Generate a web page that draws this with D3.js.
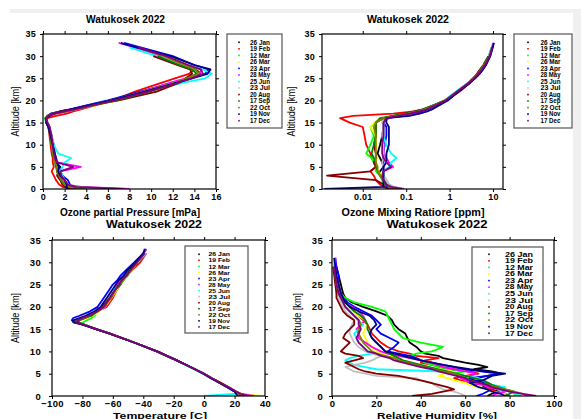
<!DOCTYPE html>
<html><head><meta charset="utf-8">
<script src="https://cdn.jsdelivr.net/npm/d3@7"></script>
<style>body{margin:0;background:#fff;} svg{display:block;font-family:"Liberation Sans",Arial,sans-serif;}</style>
</head><body><svg id="c" width="581" height="419"></svg>
<script>
const dates = ["26 Jan","19 Feb","12 Mar","26 Mar","23 Apr","28 May","25 Jun","23 Jul","20 Aug","17 Sep","22 Oct","19 Nov","17 Dec"];
const seriesColors = ["#000000","#ff0000","#00ff00","#ffff00","#0000ff","#ff00ff","#00ffff","#c0c0c0","#800000","#008000","#808000","#000080","#800080"];
const altTicks = [0,5,10,15,20,25,30,35];
const pressureTicks = [0,2,4,6,8,10,12,14,16];
const mixingTicks = [0.01,0.1,1,10];
const tempTicks = [-100,-80,-60,-40,-20,0,20,40];
const humidityTicks = [0,20,40,60,80,100];

// altitude levels [km]
const altA = [0,0.5,1,2,3,4,5,6,7,8,10,12,14,15,16,16.5,17,17.5,18,19,20,22,24,25,26,27,28,30,32,33];
const altB = [0,0.5,1,1.5,2,2.5,3,3.5,4,4.5,5,5.5,6,6.5,7,7.5,8,8.5,9,9.5,10,11,12,13,14,15,16,17,18,19,20,21,22,23,25,27,29,31,32];

// Ozone partial pressure [mPa] on altA
const ozonePressure = [
 [5.5,2.6,2.2,1.8,1.5,1.3,1.6,1.2,1.1,1.0,0.9,0.8,0.6,0.4,0.3,0.4,0.8,1.6,2.6,4.5,6.2,9.8,12.2,13.4,14.6,14.2,13.0,11.2,null,null],
 [3.0,1.8,1.5,1.2,1.0,0.8,1.0,0.9,0.9,0.8,0.7,0.6,0.5,0.3,0.4,1.2,2.2,2.8,3.5,5.0,6.5,8.5,11.0,12.2,13.5,14.0,13.2,11.5,9.0,null],
 [6.0,3.0,2.0,1.9,1.6,1.4,1.3,1.1,1.2,1.0,0.8,0.7,0.5,0.3,0.2,0.4,0.8,1.8,2.9,4.6,6.8,9.5,12.4,13.6,14.5,14.0,12.8,10.8,null,null],
 [6.8,3.2,2.4,2.0,1.7,1.5,1.4,1.2,1.1,1.1,0.9,0.8,0.6,0.4,0.3,0.5,1.0,2.0,3.1,5.0,7.0,10.0,12.8,13.8,14.8,14.4,13.5,11.8,9.0,null],
 [3.0,2.6,2.5,2.3,1.8,1.6,1.5,1.3,1.2,1.0,0.9,0.7,0.5,0.3,0.3,0.4,0.7,1.5,2.5,4.2,6.0,9.0,12.0,13.5,15.0,15.3,14.0,12.0,9.0,7.5],
 [8.0,3.5,2.2,2.0,1.8,1.6,3.5,1.3,1.2,1.1,1.0,0.8,0.6,0.4,0.3,0.6,1.2,2.2,3.2,4.8,6.5,9.2,11.8,13.2,14.4,14.7,13.4,11.0,8.5,7.0],
 [5.0,2.8,2.2,2.0,1.8,1.6,1.8,2.0,2.6,1.4,1.0,0.8,0.6,0.4,0.3,0.4,0.9,1.8,2.8,4.5,6.4,9.6,13.0,15.0,15.6,14.8,13.0,10.5,8.0,null],
 [6.2,2.8,2.3,2.0,1.7,1.5,1.4,1.3,1.2,1.1,0.9,0.8,0.6,0.4,0.3,0.5,0.9,1.9,2.9,4.8,6.6,9.4,12.3,13.5,14.3,14.0,13.0,11.0,null,null],
 [2.5,2.0,1.8,1.6,1.3,1.4,1.4,1.2,1.0,1.0,0.9,0.7,0.6,0.4,0.3,0.4,0.8,1.6,2.6,4.6,7.0,10.5,12.6,13.2,13.8,13.6,12.4,10.2,null,null],
 [3.5,2.4,2.0,1.7,1.5,1.3,1.2,1.1,1.0,0.9,0.8,0.7,0.5,0.3,0.2,0.5,1.0,2.0,3.0,4.9,6.8,9.8,12.4,13.4,14.2,13.8,12.6,10.6,null,null],
 [4.0,2.4,2.0,1.7,1.5,1.3,1.3,1.1,1.0,0.9,0.8,0.7,0.5,0.3,0.3,0.5,1.1,2.1,3.0,4.7,6.3,9.3,12.2,13.3,14.4,14.1,13.0,11.2,8.8,null],
 [2.2,2.2,2.2,2.0,1.6,1.4,1.5,1.3,1.2,1.1,0.9,0.7,0.5,0.3,0.3,0.6,1.0,1.8,2.6,4.4,6.3,9.4,12.4,13.8,15.2,15.5,14.0,11.8,8.6,7.2],
 [7.5,3.0,2.3,2.0,1.7,1.6,2.8,1.3,1.1,1.0,0.9,0.8,0.6,0.4,0.3,0.5,1.0,1.9,2.9,4.7,6.6,9.7,12.5,13.7,14.8,14.6,13.4,11.4,8.8,null]
];

// Ozone mixing ratio [ppm] on altA
const ozoneMixing = [
 [0.06,0.04,0.03,0.03,0.025,0.025,0.03,0.028,0.025,0.022,0.025,0.028,0.03,0.03,0.035,0.06,0.12,0.2,0.28,0.5,0.85,1.5,2.8,3.6,4.4,5.3,6.3,8.3,null,null],
 [0.05,0.03,0.025,0.02,0.018,0.015,0.02,0.018,0.016,0.015,0.012,0.011,0.01,0.005,0.003,0.006,0.05,0.15,0.25,0.5,0.8,1.5,2.7,3.4,4.3,5.2,6.2,8.0,9.3,null],
 [0.07,0.04,0.03,0.028,0.025,0.02,0.02,0.018,0.016,0.012,0.015,0.018,0.015,0.02,0.03,0.06,0.1,0.18,0.27,0.48,0.82,1.6,2.9,3.7,4.4,5.2,6.2,8.2,null,null],
 [0.08,0.05,0.04,0.035,0.03,0.022,0.02,0.02,0.022,0.02,0.02,0.02,0.015,0.018,0.03,0.05,0.1,0.17,0.26,0.46,0.8,1.5,2.8,3.6,4.5,5.4,6.5,8.4,9.6,null],
 [0.04,0.035,0.035,0.03,0.03,0.03,0.03,0.03,0.03,0.03,0.032,0.035,0.035,0.03,0.03,0.08,0.15,0.22,0.32,0.55,0.9,1.6,2.9,3.8,4.8,5.8,6.8,8.6,9.8,10.3],
 [0.09,0.05,0.04,0.035,0.03,0.03,0.05,0.04,0.035,0.03,0.03,0.03,0.03,0.03,0.04,0.07,0.2,0.3,0.4,0.55,0.85,1.5,2.7,3.5,4.3,5.3,6.3,8.2,9.5,10],
 [0.07,0.05,0.04,0.035,0.03,0.03,0.04,0.045,0.06,0.045,0.035,0.03,0.03,0.03,0.03,0.05,0.1,0.16,0.25,0.45,0.75,1.4,2.7,3.8,4.7,5.5,6.4,8.0,9.3,null],
 [0.08,0.05,0.04,0.035,0.03,0.03,0.03,0.028,0.03,0.03,0.03,0.028,0.03,0.028,0.03,0.055,0.1,0.17,0.26,0.47,0.8,1.5,2.8,3.6,4.4,5.3,6.3,8.2,null,null],
 [0.04,0.03,0.03,0.02,0.0015,0.015,0.02,0.018,0.02,0.02,0.018,0.02,0.02,0.02,0.03,0.05,0.09,0.15,0.24,0.45,0.82,1.7,3.0,3.7,4.3,5.0,6.0,7.8,null,null],
 [0.06,0.04,0.035,0.03,0.025,0.022,0.02,0.02,0.018,0.016,0.018,0.02,0.02,0.02,0.025,0.05,0.1,0.17,0.25,0.45,0.78,1.5,2.8,3.6,4.4,5.2,6.1,8.0,null,null],
 [0.06,0.04,0.035,0.03,0.025,0.022,0.022,0.02,0.02,0.02,0.02,0.02,0.018,0.02,0.03,0.06,0.11,0.18,0.27,0.47,0.8,1.5,2.8,3.6,4.5,5.3,6.3,8.3,9.5,null],
 [0.0013,0.03,0.03,0.03,0.03,0.03,0.03,0.035,0.035,0.035,0.04,0.04,0.04,0.035,0.035,0.12,0.2,0.3,0.4,0.6,0.9,1.6,2.9,3.9,4.9,5.9,6.9,8.6,9.9,10.5],
 [0.08,0.045,0.035,0.03,0.028,0.03,0.045,0.035,0.03,0.028,0.028,0.03,0.03,0.03,0.035,0.065,0.12,0.2,0.3,0.5,0.82,1.5,2.8,3.7,4.6,5.5,6.5,8.4,9.6,null]
];

// Temperature [C] on altA
const temperature = [
 [27,23,21,16,10.5,5,0,-6,-12,-18,-31,-46,-62,-71,-79,-84,-84,-80,-76,-70,-66,-62,-58,-55,-53,-51,-49,-44,null,null],
 [30,24,21,15.5,10,5,-0.5,-6,-12,-18,-31,-46,-62,-71,-79,-83,-82,-78,-74,-70,-64,-60,-57,-55,-54,-51,-48,-42,-38,null],
 [28,23,20,15,10,4.5,-0.5,-6.5,-12.5,-18.5,-31.5,-46.5,-62,-71,-79,-80,-77,-74,-72,-70,-67,-63,-58,-55,-53,-50,-49,-45,null,null],
 [38,25,21,16,11,5,0,-6,-12,-18,-31,-46,-62,-71,-79,-83,-82,-77,-73,-69,-65,-61,-57,-56,-53,-51,-48,-44,-40,null],
 [24,22,20,15,10,4.5,-0.5,-6,-12,-18,-31,-46,-62,-71,-80,-85,-87,-86,-82,-75,-70,-66,-62,-60,-57,-55,-52,-46,-40,-38],
 [33,24,21,15.5,10.5,5,0,-6,-12,-18,-31,-46,-62,-71,-79,-84,-83,-79,-75,-70,-65,-62,-59,-57,-55,-52,-49,-44,-40,-38],
 [0,22,20,15,10,5,-0.5,-6.5,-12.5,-18,-31,-46,-62,-71,-79,-83,-82,-79,-75,-71,-66,-62,-59,-56,-54,-52,-50,-44,-38,null],
 [26,23,20,15,10,4.5,-0.5,-6,-12,-18,-31,-46,-62,-71,-79,-84,-83,-80,-76,-71,-67,-63,-58,-56,-54,-52,-50,-45,null,null],
 [29,23,20,15,10,5,0,-6,-12,-18,-31,-46,-62,-71,-79,-83,-82,-78,-75,-71,-67,-62,-58,-56,-54,-51,-49,-45,null,null],
 [27,23,20,15.5,10,5,0,-6,-12,-18,-31,-46,-62,-71,-79,-83,-85,-80,-74,-70,-66,-62,-58,-55,-54,-52,-50,-44,null,null],
 [29,23,20,15,10,5,0,-6,-12,-18,-31,-46,-62,-71,-79,-84,-83,-79,-76,-70,-66,-61,-58,-56,-53,-51,-48,-44,-40,null],
 [22,21,20,15,10,4.5,-0.5,-6,-12,-18,-31,-46,-62,-71,-80,-86,-86,-82,-78,-72,-68,-64,-60,-58,-56,-53,-51,-45,-40,-39],
 [30,24,21,16,10.5,5,0,-6,-12,-18,-31,-46,-62,-71,-79,-84,-83,-80,-76,-70,-66,-62,-58,-56,-54,-51,-49,-44,-39,null]
];

// Relative humidity [%] on altB
const humidity = [
 [70,72,75,72,68,70,66,60,65,70,76,72,64,70,66,60,55,50,48,42,40,38,35,34,33,30,28,27,25,20,14,9,6,5,4,3,2,null,null],
 [80,78,74,70,72,68,62,58,55,60,66,62,55,50,45,40,42,48,38,35,30,25,22,20,18,17,16,14,12,10,8,6,5,4,3,2,1.5,null,null],
 [85,82,80,78,75,72,70,65,60,58,55,60,52,48,45,42,40,38,35,38,45,50,40,32,30,28,27,26,25,24,18,10,6,4,3,2,1.5,null,null],
 [75,78,72,70,66,62,60,55,52,48,50,54,48,42,38,35,32,30,25,22,20,18,16,15,14,15,16,15,12,10,8,6,5,4,3,2,1.5,null,null],
 [65,68,70,72,74,70,68,64,62,70,75,68,60,55,50,45,40,38,35,30,25,28,30,26,22,20,22,20,18,14,10,7,5,4,3,3,2,1.5,null],
 [72,74,78,75,70,68,62,60,58,62,65,60,55,50,48,45,40,35,30,25,22,18,15,12,12,11,13,15,14,12,9,6,5,4,3,2,1.5,1.5,null],
 [82,84,80,75,78,72,70,68,66,60,55,50,20,15,10,8,6,8,12,18,16,14,12,11,10,12,14,12,10,8,6,5,4,3,2,1.5,1,1,null],
 [60,58,55,50,48,46,45,40,38,20,15,10,8,6,10,15,18,20,22,18,15,12,10,9,8,8,9,10,8,6,5,4,3,2,2,1.5,1,null,null],
 [36,45,50,55,52,48,44,40,35,30,20,15,12,10,8,6,10,14,12,6,4,6,8,5,6,8,10,10,7,5,4,3,2,2,1.5,1,0.5,null,null],
 [78,80,82,78,75,72,70,68,64,60,56,52,48,44,40,36,32,30,28,26,24,22,20,18,17,16,16,15,13,10,8,6,4,3,2,1.5,1,null,null],
 [88,86,82,78,74,70,66,62,60,58,55,50,46,42,38,34,30,28,24,20,18,16,14,13,12,12,13,12,10,8,6,5,4,3,2,1.5,1,null,null],
 [78,76,72,70,66,64,62,68,70,72,78,70,62,56,50,45,40,36,32,28,24,22,20,18,17,18,20,19,17,12,8,6,5,4,3,2,1.5,1,null],
 [92,86,80,76,72,70,66,62,60,56,52,48,45,40,36,32,28,26,22,20,16,14,12,11,12,13,12,12,10,8,6,5,4,3,2,1.5,1,null,null]
];

const svg = d3.select("#c");
// light grey page border strips
svg.append("rect").attr("x",10).attr("y",9).attr("width",571).attr("height",4).attr("fill","#f0f0f0");
svg.append("rect").attr("x",573).attr("y",13).attr("width",8).attr("height",406).attr("fill","#f0f0f0");

const panels = [
 {box:[43,216,34,189], xs:d3.scaleLinear().domain([0,16]), ticks:pressureTicks, fmt:d3.format("d"),
  data:ozonePressure, alt:altA, title:[125.5,23,79], xlab:["Ozone partial Pressure [mPa]",130,216,140,10], ylabX:15, tickFs:9, pad:2, lpad:4,
  leg:{box:[227,282,34,128], first:42.3, step:6.53, dot:239, text:250, fs:6.5, tw:20}},
 {box:[322,503,34,189], xs:d3.scaleLog().domain([0.00115,17]), ticks:mixingTicks, fmt:d=>String(d),
  data:ozoneMixing, alt:altA, title:[408,23,82], xlab:["Ozone Mixing Ratiore [ppm]",413,216,143,10], ylabX:291, tickFs:9, pad:2, lpad:4,
  leg:{box:[514,572,34,128], first:42.3, step:6.53, dot:528, text:540.5, fs:6.5, tw:20}},
 {box:[52,265,240,396], xs:d3.scaleLinear().domain([-100,40]), ticks:tempTicks, fmt:d3.format("d"),
  data:temperature, alt:altA, title:[154,228,96], xlab:["Temperature [C]",160,418.5,94,9], ylabX:15, tickFs:9.5, pad:1, lpad:8,
  leg:{box:[185,248,246,333], first:254.3, step:6.05, dot:199, text:208.5, fs:6, tw:21.5}},
 {box:[332,554,240,396], xs:d3.scaleLinear().domain([0,100]), ticks:humidityTicks, fmt:d3.format("d"),
  data:humidity, alt:altB, title:[437,228,101], xlab:["Relative Humidity [%]",437,418.5,120,9], ylabX:297, tickFs:9.5, pad:1, lpad:6,
  leg:{box:[472,543,247,340], first:254.3, step:6.58, dot:489, text:505, fs:6.5, tw:28}}
];

panels.forEach(p => {
  const [x0,x1,y0,y1] = p.box;
  const x = p.xs.range([x0,x1]);
  const y = d3.scaleLinear().domain([0,35]).range([y1,y0]);
  const g = svg.append("g");
  const clipId = "clip"+x0+"_"+y0;
  g.append("clipPath").attr("id",clipId).append("rect").attr("x",x0).attr("y",y0).attr("width",x1-x0).attr("height",y1-y0);

  // profiles
  const line = d3.line().defined(d=>d[0]!=null).x(d=>x(d[0])).y(d=>y(d[1]));
  const lg = g.append("g").attr("clip-path",`url(#${clipId})`);
  p.data.forEach((vals,i) => {
    const pts = vals.map((v,k)=>[v,p.alt[k]]);
    lg.append("path").attr("d",line(pts)).attr("fill","none")
      .attr("stroke",seriesColors[i]).attr("stroke-width",1.8).attr("stroke-linejoin","round");
  });

  // axes
  const styleAxis = sel => {
    sel.select(".domain").remove();
    sel.selectAll("line").attr("stroke","#000");
    sel.selectAll("text").attr("font-weight","bold").attr("font-size",p.tickFs).attr("fill","#000")
      .attr("font-family","'Liberation Sans',Arial,sans-serif").attr("letter-spacing","0.3px");
  };
  g.append("g").attr("transform",`translate(0,${y1})`)
    .call(d3.axisBottom(x).tickValues(p.ticks).tickFormat(p.fmt).tickSize(3).tickPadding(p.pad)).call(styleAxis);
  g.append("g").attr("transform",`translate(0,${y0})`)
    .call(d3.axisTop(x).tickValues(p.ticks).tickFormat("").tickSize(3)).call(styleAxis);
  g.append("g").attr("transform",`translate(${x0},0)`)
    .call(d3.axisLeft(y).tickValues(altTicks).tickFormat(d3.format("d")).tickSize(3).tickPadding(p.lpad)).call(styleAxis);
  g.append("g").attr("transform",`translate(${x1},0)`)
    .call(d3.axisRight(y).tickValues(altTicks).tickFormat("").tickSize(3)).call(styleAxis);

  // frame
  g.append("rect").attr("x",x0).attr("y",y0).attr("width",x1-x0).attr("height",y1-y0)
    .attr("fill","none").attr("stroke","#000").attr("stroke-width",1.2);

  // title
  g.append("text").attr("x",p.title[0]).attr("y",p.title[1]).attr("text-anchor","middle")
    .attr("font-weight","bold").attr("font-size",10.5).attr("textLength",p.title[2]).attr("lengthAdjust","spacingAndGlyphs")
    .text("Watukosek 2022");
  // x label
  g.append("text").attr("x",p.xlab[1]).attr("y",p.xlab[2]).attr("text-anchor","middle")
    .attr("font-weight","bold").attr("font-size",p.xlab[4]).attr("textLength",p.xlab[3]).attr("lengthAdjust","spacingAndGlyphs")
    .text(p.xlab[0]);
  // y label
  const ym = (y0+y1)/2;
  g.append("text").attr("transform",`translate(${p.ylabX},${ym}) rotate(-90)`).attr("text-anchor","middle")
    .attr("dy","0.35em").attr("font-size",11).attr("textLength",50).attr("lengthAdjust","spacingAndGlyphs")
    .text("Altitude [km]");

  // legend
  const L = p.leg;
  g.append("rect").attr("x",L.box[0]).attr("y",L.box[2]).attr("width",L.box[1]-L.box[0]).attr("height",L.box[3]-L.box[2])
    .attr("fill","#fff").attr("stroke","#555").attr("stroke-width",1.2);
  dates.forEach((d,i) => {
    const yy = L.first + i*L.step;
    g.append("rect").attr("x",L.dot-0.8).attr("y",yy-0.8).attr("width",1.6).attr("height",1.6).attr("fill",seriesColors[i]);
    g.append("text").attr("x",L.text).attr("y",yy).attr("dy","0.35em").attr("font-weight","bold")
      .attr("font-size",L.fs).attr("textLength",L.tw).attr("lengthAdjust","spacingAndGlyphs").text(d);
  });
});
</script></body></html>
